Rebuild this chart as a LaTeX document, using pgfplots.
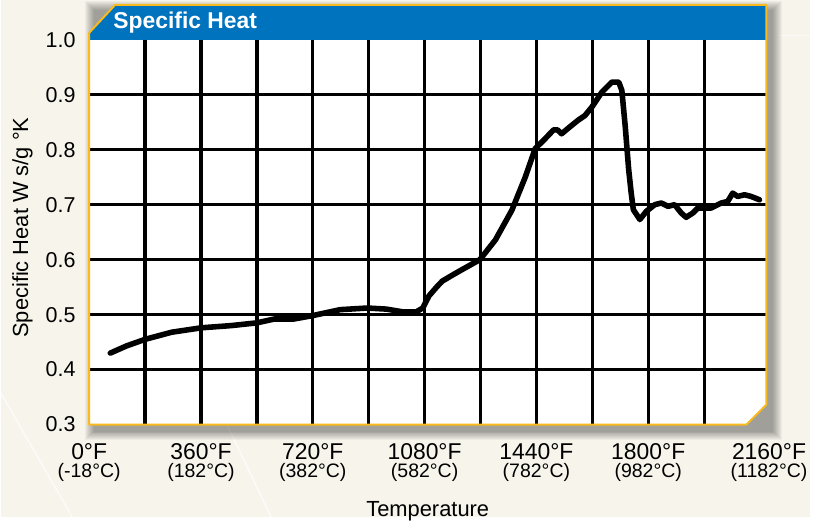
\documentclass[border=0pt]{standalone}
\usepackage{fontspec}
\setmainfont{Liberation Sans}
\usepackage{pgfplots}
\pgfplotsset{compat=1.18}
\definecolor{bg}{RGB}{246,244,235}
\definecolor{hblue}{RGB}{0,115,190}
\definecolor{gold}{RGB}{248,186,30}
\newcommand\xl[2]{\begin{tabular}{@{}c@{}}\fontsize{11.5}{12}\selectfont #1\\[-3pt]\fontsize{9.8}{10}\selectfont #2\end{tabular}}
\begin{document}
\begin{tikzpicture}
\begin{scope}[shift={(0pt,260pt)},x=0.5pt,y=-0.5pt]
\fill[bg] (0,0) rectangle (814,520);
\draw[white,opacity=0.7,line width=0.7pt] (0,395) -- (72,520);
\draw[white,opacity=0.7,line width=0.7pt] (228,428) -- (272,520);
\draw[white,opacity=0.6,line width=0.7pt] (782,36) -- (814,36);
\foreach \i in {1,...,10} {
  \fill[black,opacity=0.038] ({95-\i},{11-\i}) rectangle ({776+\i},{433+\i});
}
\fill[white] (89,427) -- (89,40) -- (770,40) -- (770,407) -- (750,427) -- cycle;
\end{scope}
\begin{axis}[
  at={(44.5pt,46.5pt)}, anchor=south west,
  scale only axis, width=340.5pt, height=193.5pt,
  xmin=0, xmax=2180, ymin=0.3, ymax=1.0,
  axis line style={draw=none},
  major tick length=0pt, minor tick length=0pt,
  xtick={0,360,720,1080,1440,1800},
  xticklabels={\xl{0°F}{(-18°C)},\xl{360°F}{(182°C)},\xl{720°F}{(382°C)},\xl{1080°F}{(582°C)},\xl{1440°F}{(782°C)},\xl{1800°F}{(982°C)}},
  extra x ticks={2160},
  extra x tick labels={\xl{2160°F}{(1182°C)}},
  extra x tick style={xticklabel style={xshift=4.5pt}},
  minor xtick={180,360,540,720,900,1080,1260,1440,1620,1800,1980},
  ytick={0.3,0.4,0.5,0.6,0.7,0.8,0.9,1.0},
  yticklabels={0.3,0.4,0.5,0.6,0.7,0.8,0.9,1.0},
  minor ytick={0.4,0.5,0.6,0.7,0.8,0.9},
  xminorgrids, yminorgrids,
  minor grid style={black,line width=1.65pt},
  yticklabel style={font=\fontsize{10.8}{11}\selectfont, xshift=-3.3pt},
  xticklabel style={yshift=-5.7pt},
  xlabel={Temperature}, ylabel={Specific Heat W s/g °K},
  xlabel style={at={(axis description cs:0.5,-0.225)},anchor=center,font=\fontsize{11}{11}\selectfont},
  ylabel style={at={(axis description cs:-0.0984,0.512)},anchor=center,font=\fontsize{11}{11}\selectfont},
]
\addplot[black, line width=2.8pt, line join=round, line cap=round] coordinates {
(68,0.430) (120,0.443) (180,0.455) (266,0.468) (361,0.476) (457,0.480) (540,0.485)
(596,0.492) (659,0.492) (718,0.498) (808,0.509) (896,0.512) (957,0.510) (1010,0.505)
(1053,0.505) (1074,0.512) (1094,0.534) (1120,0.551) (1137,0.561) (1170,0.572) (1201,0.582)
(1258,0.600) (1308,0.636) (1361,0.690) (1404,0.750) (1436,0.802) (1468,0.820) (1495,0.836)
(1508,0.836) (1521,0.829) (1553,0.844) (1575,0.854) (1596,0.862) (1619,0.878) (1651,0.905)
(1683,0.923) (1705,0.923) (1715,0.908) (1726,0.842) (1737,0.764) (1745,0.722) (1752,0.691)
(1773,0.673) (1794,0.688) (1821,0.700) (1842,0.703) (1864,0.697) (1885,0.700) (1906,0.685)
(1922,0.677) (1944,0.685) (1960,0.694) (1981,0.694) (2003,0.694) (2035,0.703) (2056,0.706)
(2072,0.721) (2088,0.715) (2110,0.718) (2131,0.715) (2158,0.709)
};
\end{axis}
\begin{scope}[shift={(0pt,260pt)},x=0.5pt,y=-0.5pt]
\fill[hblue] (89,40) -- (89,33) -- (115,5) -- (770,5) -- (770,40) -- cycle;
\draw[gold,line width=1pt,line join=round] (89,427) -- (89,33) -- (115,5) -- (770,5) -- (770,407) -- (750,427) -- cycle;
\node[anchor=west,text=white,font=\bfseries\fontsize{11.5}{12}\selectfont,inner sep=0pt] at (113,23) {Specific Heat};
\end{scope}
\end{tikzpicture}
\end{document}
